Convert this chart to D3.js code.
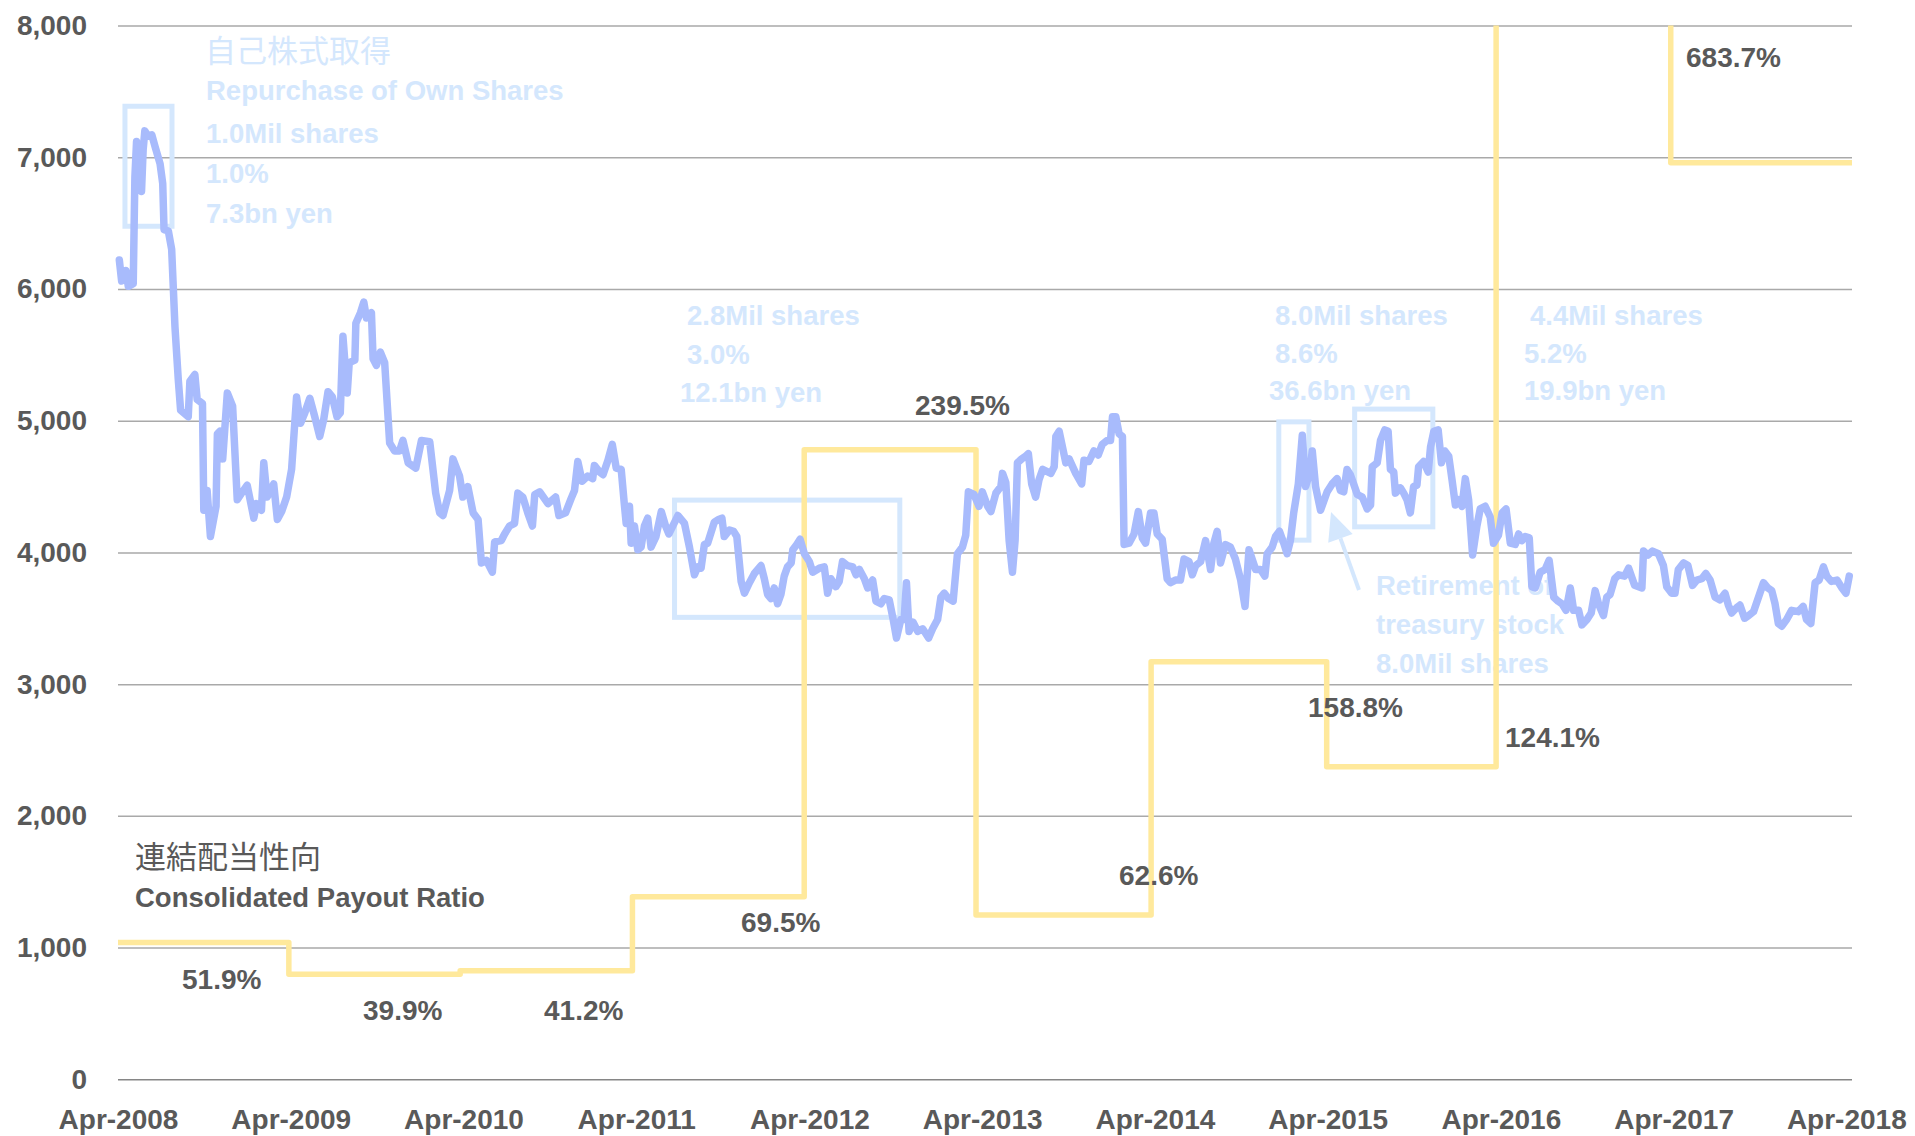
<!DOCTYPE html>
<html>
<head>
<meta charset="utf-8">
<script src="https://cdn.jsdelivr.net/npm/d3@7"></script>
<style>
    html, body { margin: 0; padding: 0; background: #fff; }
    svg { display: block; }
    text { font-family: "Liberation Sans", Arial, sans-serif; }
</style>
</head>
<body>
<div id="chart"></div>
<script>
// Weekly share price (week offset from 1 Apr 2008, closing price in yen)
const priceWeek = [
    0.4, 1.1, 2.4, 3.1, 4.6, 5.1, 5.6, 7.1, 7.6, 8.1, 9.1, 10.2, 11.2, 12.7, 13.5, 13.9, 15.2, 16.2, 17.2, 18.2,
    18.9, 21.2, 21.7, 23.2, 23.9, 25.5, 25.9, 26.9, 27.9, 29.6, 30.0, 30.8, 31.6, 33.0, 34.6, 36.0, 37.3, 39.0, 41.0, 41.8,
    43.3, 44.0, 45.0, 47.0, 48.1, 49.4, 50.9, 52.4, 53.9, 55.1, 56.4, 57.9, 59.4, 60.9, 62.1, 63.4, 64.7, 66.1, 67.1, 67.9,
    69.2, 69.8, 71.5, 71.8, 73.2, 74.2, 75.0, 76.5, 77.0, 78.0, 79.2, 80.5, 82.0, 83.5, 85.0, 86.0, 87.6, 89.9, 91.6, 94.1,
    95.9, 97.1, 98.1, 100.1, 101.1, 103.1, 104.1, 105.6, 107.2, 108.7, 109.7, 111.2, 113.0, 113.7, 115.7, 116.7, 118.2, 119.7, 120.7, 122.2,
    123.7, 125.1, 125.8, 127.3, 129.8, 132.1, 133.1, 135.1, 136.8, 137.8, 138.8, 140.1, 141.8, 143.3, 143.8, 145.4, 146.4, 147.9, 149.2, 150.4,
    151.9, 152.9, 153.4, 154.4, 154.9, 155.9, 156.9, 157.9, 158.9, 159.9, 160.9, 162.4, 164.0, 165.3, 166.3, 169.0, 171.0, 172.5, 174.0, 175.0,
    176.0, 177.0, 178.0, 180.0, 181.3, 182.3, 183.0, 184.6, 185.8, 186.8, 188.1, 189.1, 190.6, 192.1, 194.1, 195.1, 196.1, 197.1, 198.1, 199.1,
    200.1, 201.1, 202.1, 203.2, 203.7, 204.9, 205.9, 207.2, 208.7, 209.7, 211.7, 213.2, 214.2, 215.2, 216.7, 217.7, 218.7, 220.2, 221.8, 222.8,
    223.8, 225.3, 226.3, 227.8, 228.8, 230.3, 231.3, 232.8, 234.0, 235.0, 236.3, 237.3, 238.0, 238.8, 240.0, 241.4, 242.9, 244.7, 245.9, 247.4,
    248.4, 249.4, 250.7, 252.1, 253.4, 254.9, 255.9, 256.7, 258.4, 259.9, 260.9, 262.5, 263.5, 265.0, 266.5, 267.0, 268.0, 269.0, 270.0, 270.8,
    271.5, 272.8, 274.0, 274.8, 275.8, 277.0, 278.0, 279.1, 281.6, 282.6, 283.1, 284.1, 285.1, 286.1, 287.1, 289.1, 290.9, 291.6, 293.1, 294.6,
    295.9, 297.1, 298.6, 299.6, 300.2, 301.2, 302.2, 303.2, 303.7, 305.2, 306.7, 308.0, 309.2, 310.2, 311.7, 312.7, 313.7, 315.2, 316.7, 317.7,
    319.2, 320.7, 321.8, 323.3, 324.3, 325.3, 326.8, 328.3, 329.8, 330.8, 331.8, 332.8, 334.3, 335.8, 337.3, 338.9, 340.2, 341.4, 343.4, 344.9,
    346.2, 346.9, 348.4, 349.4, 350.6, 351.9, 352.9, 353.9, 354.9, 356.3, 357.5, 358.5, 359.7, 360.5, 361.5, 363.0, 364.0, 365.0, 366.5, 368.0,
    369.0, 370.0, 371.0, 372.0, 373.0, 374.1, 375.6, 377.1, 378.1, 378.6, 380.1, 381.1, 382.4, 383.4, 384.1, 385.1, 385.6, 387.1, 388.1, 389.1,
    390.1, 391.1, 392.1, 392.6, 394.1, 395.5, 396.2, 397.2, 398.5, 399.5, 400.5, 401.7, 402.7, 403.7, 404.7, 405.7, 406.7, 407.7, 408.9, 410.2,
    411.2, 412.7, 414.2, 415.2, 416.7, 417.8, 419.0, 420.3, 421.8, 422.8, 423.8, 424.8, 426.0, 426.8, 427.8, 429.3, 430.8, 432.0, 433.4, 434.7,
    435.9, 437.1, 438.4, 439.4, 440.9, 441.9, 443.4, 444.7, 445.9, 446.9, 448.4, 449.4, 450.4, 451.8, 453.0, 454.8, 456.0, 457.8, 460.0, 460.5,
    461.8, 463.2, 465.0, 466.5, 467.5, 469.0, 470.0, 471.0, 472.6, 473.9, 475.3, 476.6, 478.1, 479.3, 480.6, 482.1, 483.6, 485.1, 486.1, 487.1,
    488.6, 489.6, 491.0, 492.2, 493.7, 495.2, 496.7, 498.0, 499.2, 500.2, 501.2, 502.2, 503.7, 505.2, 507.2, 508.7, 509.7, 511.0, 512.3, 513.5,
    514.8, 515.8, 517.2, 518.9, 520.4, 521.6, 522.6
];
const priceValue = [
    6220, 6060, 6140, 6020, 6040, 6850, 7120, 6740, 7060, 7200, 7160, 7170, 7080, 6950, 6800, 6450, 6440, 6300, 5710, 5310,
    5080, 5030, 5300, 5350, 5160, 5130, 4320, 4470, 4120, 4350, 4900, 4920, 4710, 5210, 5110, 4400, 4450, 4510, 4260, 4370,
    4320, 4680, 4420, 4520, 4250, 4310, 4420, 4630, 5180, 4980, 5060, 5170, 5030, 4880, 5010, 5220, 5180, 5030, 5060, 5640,
    5210, 5440, 5460, 5740, 5820, 5900, 5780, 5820, 5470, 5420, 5520, 5440, 4830, 4770, 4770, 4850, 4680, 4640, 4850, 4840,
    4450, 4300, 4280, 4470, 4710, 4580, 4420, 4500, 4300, 4250, 3920, 3940, 3850, 4080, 4090, 4140, 4200, 4220, 4450, 4420,
    4300, 4200, 4440, 4460, 4370, 4420, 4280, 4300, 4410, 4470, 4690, 4540, 4580, 4560, 4660, 4610, 4590, 4700, 4820, 4640,
    4630, 4350, 4220, 4350, 4070, 4200, 4020, 4040, 4200, 4260, 4040, 4120, 4310, 4200, 4140, 4280, 4220, 4040, 3830, 3890,
    3880, 4060, 4070, 4230, 4250, 4260, 4120, 4170, 4160, 4120, 3780, 3690, 3770, 3840, 3900, 3800, 3680, 3650, 3730, 3610,
    3680, 3820, 3890, 3920, 4020, 4060, 4100, 3990, 3930, 3850, 3880, 3890, 3690, 3800, 3740, 3780, 3930, 3900, 3890, 3830,
    3870, 3800, 3730, 3790, 3630, 3610, 3650, 3640, 3490, 3350, 3490, 3490, 3770, 3400, 3470, 3400, 3420, 3350, 3420, 3490,
    3660, 3690, 3650, 3630, 3990, 4040, 4130, 4460, 4440, 4350, 4460, 4350, 4310, 4450, 4500, 4600, 4530, 4090, 3850, 4090,
    4680, 4710, 4730, 4750, 4520, 4420, 4550, 4630, 4600, 4650, 4880, 4920, 4800, 4680, 4710, 4600, 4520, 4700, 4690, 4770,
    4740, 4820, 4850, 4850, 5030, 5030, 4900, 4880, 4060, 4070, 4140, 4310, 4110, 4070, 4300, 4300, 4140, 4100, 3800, 3770,
    3790, 3790, 3950, 3930, 3830, 3900, 3930, 4090, 3870, 4070, 4160, 3920, 4060, 4040, 3950, 3790, 3590, 4020, 3870, 3870,
    3820, 3990, 4040, 4120, 4160, 4070, 3990, 4090, 4300, 4520, 4890, 4500, 4600, 4770, 4500, 4320, 4390, 4460, 4520, 4560,
    4470, 4460, 4630, 4590, 4520, 4440, 4420, 4330, 4360, 4650, 4680, 4850, 4930, 4920, 4630, 4610, 4450, 4490, 4450, 4400,
    4300, 4500, 4510, 4650, 4690, 4610, 4800, 4920, 4930, 4680, 4770, 4730, 4550, 4360, 4400, 4350, 4560, 4400, 3980, 4200,
    4330, 4350, 4270, 4070, 4130, 4300, 4330, 4070, 4060, 4140, 4090, 4120, 4110, 3740, 3730, 3850, 3870, 3940, 3660, 3630,
    3610, 3560, 3730, 3560, 3560, 3450, 3490, 3540, 3710, 3610, 3520, 3660, 3680, 3800, 3830, 3820, 3880, 3750, 3730, 4010,
    3980, 4010, 3990, 3900, 3740, 3690, 3690, 3870, 3920, 3900, 3750, 3790, 3800, 3840, 3790, 3660, 3640, 3690, 3600, 3540,
    3580, 3600, 3500, 3520, 3550, 3660, 3770, 3730, 3710, 3610, 3460, 3440, 3490, 3560, 3550, 3590, 3490, 3460, 3770, 3790,
    3890, 3820, 3780, 3790, 3730, 3690, 3820
];

// Consolidated payout ratio per fiscal year (step line, %)
const payoutStart = ["2008-04-01", "2009-03-28", "2010-03-25", "2011-03-24", "2012-03-21",
                     "2013-03-19", "2014-03-24", "2015-03-30", "2016-03-22", "2017-03-26"];
const payoutLevel = [51.9, 39.9, 41.2, 69.3, 239.0, 62.4, 158.5, 118.6, 683.7, 347.9];
const payoutLabel = ["51.9%", "39.9%", "41.2%", "69.5%", "239.5%", "62.6%", "158.8%", "124.1%", "683.7%"];

// Buyback boxes (week range, price range)
const boxWeekStart = [2.1, 168.0, 350.4, 373.3];
const boxWeekEnd = [16.3, 236.0, 359.5, 396.9];
const boxLow = [6476, 3507, 4093, 4194];
const boxHigh = [7387, 4397, 4991, 5088];

// Buyback notes
const noteLines = [
    ["Repurchase of Own Shares", "1.0Mil shares", "1.0%", "7.3bn yen"],
    ["2.8Mil shares", "3.0%", "12.1bn yen"],
    ["8.0Mil shares", "8.6%", "36.6bn yen"],
    ["4.4Mil shares", "5.2%", "19.9bn yen"],
    ["Retirement of", "treasury stock", "8.0Mil shares"]
];

const yTicks = [0, 1000, 2000, 3000, 4000, 5000, 6000, 7000, 8000];
const xTickLabels = ["Apr-2008", "Apr-2009", "Apr-2010", "Apr-2011", "Apr-2012", "Apr-2013",
                     "Apr-2014", "Apr-2015", "Apr-2016", "Apr-2017", "Apr-2018"];

//Setup Dimensions
const width = 1915;
const height = 1136;
const plotLeft = 118, plotRight = 1852, plotTop = 25.5, plotBottom = 1079.3;
const startDate = new Date(2008, 3, 1);
const endDate = new Date(2018, 3, 13);
const weekToDate = w => new Date(startDate.getTime() + w * 7 * 864e5);
const parseDay = d3.timeParse("%Y-%m-%d");

const grey = "#595959";
const noteBlue = "#d4e7fd";

const svg = d3.select("#chart")
    .append("svg")
    .attr("width", width)
    .attr("height", height);

const x = d3.scaleTime().domain([startDate, endDate]).range([plotLeft, plotRight]);
const y = d3.scaleLinear().domain([0, 8000]).range([plotBottom, plotTop]);
const yPay = d3.scaleLinear().domain([0, 400]).range([plotBottom, plotTop]);

//Gridlines + y labels
const yAxis = svg.append("g")
    .attr("transform", `translate(${plotLeft},0)`)
    .call(d3.axisLeft(y).tickValues(yTicks).tickSize(-(plotRight - plotLeft)).tickPadding(31).tickFormat(d3.format(",")));
yAxis.select(".domain").remove();
yAxis.selectAll("line")
    .attr("stroke", d => d === 0 ? "#868686" : "#a9a9a9")
    .attr("stroke-width", 1.5);
yAxis.selectAll("text")
    .attr("fill", grey)
    .style("font-size", "28px")
    .style("font-weight", "bold");

//X axis labels
const xTickDates = xTickLabels.map(s => d3.timeParse("%b-%Y")(s));
const xAxis = svg.append("g")
    .attr("transform", `translate(0,${plotBottom})`)
    .call(d3.axisBottom(x).tickValues(xTickDates).tickSize(0).tickPadding(30)
        .tickFormat((d, i) => xTickLabels[i]));
xAxis.select(".domain").remove();
xAxis.selectAll("text")
    .attr("fill", grey)
    .style("font-size", "28px")
    .style("font-weight", "bold");

//Buyback boxes
svg.append("g")
    .selectAll("rect")
    .data(boxWeekStart)
    .enter().append("rect")
    .attr("x", (d, i) => x(weekToDate(d)))
    .attr("y", (d, i) => y(boxHigh[i]))
    .attr("width", (d, i) => x(weekToDate(boxWeekEnd[i])) - x(weekToDate(d)))
    .attr("height", (d, i) => y(boxLow[i]) - y(boxHigh[i]))
    .attr("fill", "none")
    .attr("stroke", noteBlue)
    .attr("stroke-width", 5);

//Buyback notes
const notePos = [[206, 100], [687, 325], [1275, 325], [1530, 325], [1376, 595]];
const lineGap = [40, 38.5, 37.5, 37.5, 39];
const notes = svg.append("g").attr("fill", noteBlue)
    .style("font-size", "27.5px").style("font-weight", "bold");
noteLines.forEach((lines, n) => {
    lines.forEach((line, k) => {
        let dx = 0;
        if (n === 1 && k === 2) dx = -7;
        if (n === 2 && k === 2) dx = -6;
        if (n === 3 && k > 0) dx = -6;
        notes.append("text")
            .attr("x", notePos[n][0] + dx)
            .attr("y", notePos[n][1] + k * lineGap[n] + (n === 0 && k > 0 ? 3 : 0))
            .text(line);
    });
});
svg.append("text")
    .attr("x", 205).attr("y", 62)
    .attr("fill", noteBlue)
    .style("font-family", "'Noto Sans CJK JP', sans-serif")
    .style("font-size", "31px")
    .text("自己株式取得");

//Arrow for the retirement note
const tail = [1359, 590], tip = [1331, 512];
const ang = Math.atan2(tip[1] - tail[1], tip[0] - tail[0]);
const headLen = 28, headW = 13;
const base = [tip[0] - headLen * Math.cos(ang), tip[1] - headLen * Math.sin(ang)];
svg.append("line")
    .attr("x1", tail[0]).attr("y1", tail[1])
    .attr("x2", base[0]).attr("y2", base[1])
    .attr("stroke", noteBlue).attr("stroke-width", 4);
svg.append("path")
    .attr("d", d3.line()([
        tip,
        [base[0] + headW * Math.sin(ang), base[1] - headW * Math.cos(ang)],
        [base[0] - headW * Math.sin(ang), base[1] + headW * Math.cos(ang)]
    ]) + "Z")
    .attr("fill", noteBlue);

//Payout ratio step line (clipped to the plot area)
svg.append("clipPath").attr("id", "plotClip")
    .append("rect")
    .attr("x", plotLeft - 10).attr("y", plotTop)
    .attr("width", plotRight - plotLeft + 20).attr("height", plotBottom - plotTop + 10);

const payoutPoints = payoutStart.map((d, i) => [parseDay(d), payoutLevel[i]]);
payoutPoints.push([endDate, payoutLevel[payoutLevel.length - 1]]);
const stepLine = d3.line()
    .x(d => x(d[0]))
    .y(d => yPay(d[1]))
    .curve(d3.curveStepAfter);
svg.append("path")
    .datum(payoutPoints)
    .attr("clip-path", "url(#plotClip)")
    .attr("fill", "none")
    .attr("stroke", "#ffe99c")
    .attr("stroke-width", 5.5)
    .attr("stroke-linejoin", "round")
    .attr("d", stepLine);

//Share price line
const priceData = priceWeek.map((w, i) => ({ date: weekToDate(w), value: priceValue[i] }));
const priceLine = d3.line()
    .x(d => x(d.date))
    .y(d => y(d.value));
svg.append("path")
    .datum(priceData)
    .attr("fill", "none")
    .attr("stroke", "#a8bbfc")
    .attr("stroke-width", 7.5)
    .attr("stroke-linejoin", "round")
    .attr("stroke-linecap", "round")
    .attr("d", priceLine);

//Payout labels
const payoutLabelPos = [[182, 989], [363, 1020], [544, 1020], [741, 932], [915, 415],
                        [1119, 885], [1308, 717], [1505, 747], [1686, 67]];
svg.append("g")
    .selectAll("text")
    .data(payoutLabel)
    .enter().append("text")
    .attr("x", (d, i) => payoutLabelPos[i][0])
    .attr("y", (d, i) => payoutLabelPos[i][1])
    .attr("fill", grey)
    .style("font-size", "28px")
    .style("font-weight", "bold")
    .text(d => d);

//Payout title
svg.append("text")
    .attr("x", 135).attr("y", 868)
    .attr("fill", grey)
    .style("font-family", "'Noto Sans CJK JP', sans-serif")
    .style("font-size", "31px")
    .text("連結配当性向");
svg.append("text")
    .attr("x", 135).attr("y", 907)
    .attr("fill", grey)
    .style("font-size", "27.5px")
    .style("font-weight", "bold")
    .text("Consolidated Payout Ratio");
</script>
</body>
</html>
